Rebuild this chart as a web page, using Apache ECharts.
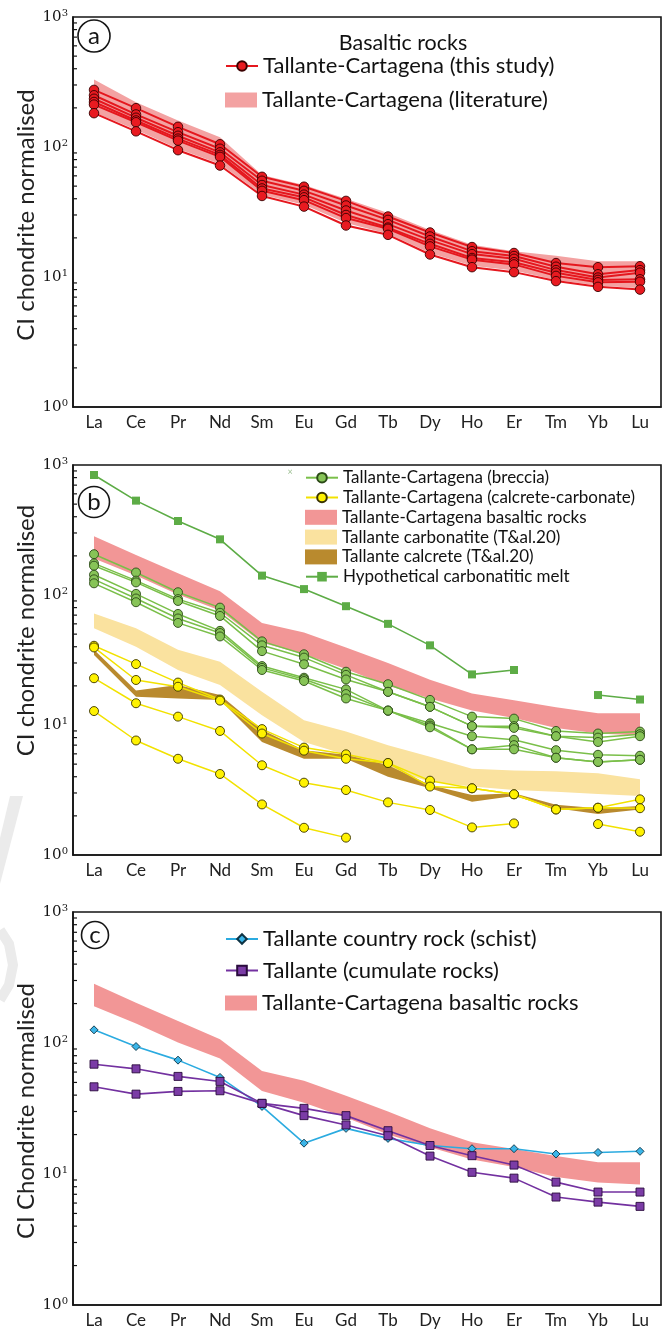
<!DOCTYPE html>
<html><head><meta charset="utf-8">
<script src="https://cdn.jsdelivr.net/npm/echarts@6/dist/echarts.min.js"></script>
<style>html,body{margin:0;padding:0;background:#fff}#chart{width:667px;height:1330px}</style>
</head><body><div id="chart"></div>
<script>
// ---------- categories & ticks ----------
const elements = ['La','Ce','Pr','Nd','Sm','Eu','Gd','Tb','Dy','Ho','Er','Tm','Yb','Lu'];
const minorTickValues = [2,3,4,5,6,7,8,9,20,30,40,50,60,70,80,90,200,300,400,500,600,700,800,900];

// ---------- panel a ----------
const aStudy1 = [275,199,143,105,59,49.5,38.5,29.2,22,17,15.3,12.8,11.9,12.1];
const aStudy2 = [250,178,130,97,55,46,35.5,27.5,20.5,15.8,14.5,12,10.5,11.3];
const aStudy3 = [235,168,122,91,51,43,32.5,25.5,19.2,15,13.8,11.3,9.9,10.8];
const aStudy4 = [222,160,116,87,48,41,30,24,18,14,13,10.8,9.5,9.6];
const aStudy5 = [212,155,112,84,46,39,28.4,23.5,17.2,13.6,12.5,10.2,9.1,9.2];
const aStudy6 = [182,132,94.5,72,42,34.8,24.9,21.1,14.9,11.9,10.9,9.3,8.4,8.0];
const aLitTop = [330,221,160,119,61,51,40,31,23,17.7,15.8,14.6,13.2,13.2];
const aLitBottom = [185,136,97,74,43,36,26,21.5,15.3,12.2,11.2,9.5,8.6,8.2];

// ---------- panel b ----------
const bBreccia1 = [206,149,105,80,44,35,25.7,20.6,15.6,11.6,11.2,9.0,8.6,8.9];
const bBreccia2 = [175,129,93,73,41,33,24.3,18,13.8,9.8,9.8,8.2,8.0,8.5];
const bBreccia3 = [168,125,90,69,37,29.3,22.4,18,13.8,9.8,9.5,8.2,7.4,8.2];
const bBreccia4 = [143,102,71.5,53,28.4,23.1,18.8,12.9,10.3,8.2,7.7,6.4,5.9,5.8];
const bBreccia5 = [132,94,66,51,27.5,22.5,17.3,12.9,9.9,6.5,7.0,5.6,5.2,5.4];
const bBreccia6 = [123,88,61,48,26.5,21.8,16,12.9,9.6,6.5,6.5,5.6,5.2,5.4];
const bCalc1 = [40.7,29.4,21.2,15.7,9.3,6.7,5.95,5.1,3.73,3.26,2.93,2.24,2.31,2.68];
const bCalc2 = [39.5,22.2,19.7,15.4,8.6,6.35,5.5,5.1,3.36,3.26,2.93,2.24,2.31,2.29];
const bCalc3 = [22.9,14.7,11.6,9.0,4.9,3.6,3.16,2.54,2.22,1.63,1.75,null,1.73,1.51];
const bCalc4 = [12.8,7.6,5.5,4.2,2.45,1.62,1.36,null,null,null,null,null,null,null];
const bHypoMelt = [838,532,371,268,141,111,82,60,41,24.5,26.5,null,17,15.7];
const basaltTop = [283,203,147,107,61,51.5,39.5,30,22.3,17.5,15.5,13.7,12.3,12.3];
const basaltBottom = [191,141,101,76,43,35,27,20,16,12.9,11.3,9.5,8.6,8.3];
const carbonatiteTop = [72,55.5,38,30.7,18,10.9,8.9,7.0,5.7,4.6,4.46,4.4,4.25,3.82];
const carbonatiteBottom = [55.5,40,26.5,20.3,11.9,7.4,5.9,4.6,3.66,3.36,3.16,3.07,2.94,2.84];
const calcreteTop = [38,18.4,20.3,17,9.2,6.4,5.9,4.9,3.45,2.9,2.98,2.43,2.29,2.38];
const calcreteBottom = [34.5,16.5,16,15.6,7.4,5.5,5.5,4.0,3.26,2.57,2.84,2.29,2.07,2.24];

// ---------- panel c ----------
const cSchist = [126,94,74,54.6,32.8,17.2,22.3,18.7,16.5,15.6,15.6,14.2,14.6,14.9];
const cCumulate1 = [68.9,63.5,55.6,50.9,34.6,31.7,27.9,21.4,16.5,13.8,11.7,8.67,7.28,7.28];
const cCumulate2 = [46.3,40.7,42.7,43.2,34.6,27.9,23.7,19.6,13.7,10.3,9.3,6.67,6.1,5.66];

// ---------- helpers ----------
const FONT = 'Lato';
const INK = '#151515';
const grids = [
  {left:73, top:17, width:588, height:390},
  {left:73, top:465, width:588, height:390},
  {left:73, top:912, width:588, height:393}
];
const yNames = ['CI chondrite normalised','CI chondrite normalised','CI Chondrite normalised'];
// padding shifts the rotated titles along the axis (left pad = up, right pad = down)
const yNamePads = [[0,6,0,0],[0,0,0,59],[0,5,0,0]];

function band(name, g, low, high, color) {
  return {
    type:'custom', name, xAxisIndex:g, yAxisIndex:g, z:1, silent:true,
    itemStyle:{color},
    data: elements.map((e,i)=>[i, low[i], high[i]]),
    encode:{x:0, y:[1,2]},
    renderItem(params, api){
      if (params.dataIndex !== 0) return null;
      const pts = [];
      for (let i=0;i<high.length;i++) pts.push(api.coord([i, high[i]]));
      for (let i=low.length-1;i>=0;i--) pts.push(api.coord([i, low[i]]));
      return {type:'polygon', shape:{points:pts}, style:{fill:color}};
    }
  };
}
function line(name, g, data, opt) {
  return {
    type:'line', name, xAxisIndex:g, yAxisIndex:g, data,
    symbol:opt.symbol, symbolSize:opt.size, showAllSymbol:true, connectNulls:false,
    lineStyle:{color:opt.color, width:opt.lw},
    itemStyle:{color:opt.fill, borderColor:opt.stroke, borderWidth:opt.bw == null ? 0.9 : opt.bw},
    z:3, silent:true, emphasis:{disabled:true}
  };
}
function minorTicks(g) {
  return {
    type:'custom', xAxisIndex:g, yAxisIndex:g, z:6, silent:true,
    data: minorTickValues.map(v=>[0,v]), encode:{x:0, y:1},
    renderItem(params, api){
      const p = api.coord([0, api.value(1)]);
      const x0 = params.coordSys.x;
      return {type:'line', shape:{x1:x0, y1:p[1], x2:x0+4, y2:p[1]}, style:{stroke:INK, lineWidth:1.2}};
    }
  };
}

const red = {symbol:'circle', size:9.5, color:'#e5171e', fill:'#e81a20', stroke:'#3a0000', lw:2};
const green = {symbol:'circle', size:9, color:'#7abf49', fill:'#87c457', stroke:'#2b4a17', lw:1.5};
const yellow = {symbol:'circle', size:9, color:'#f2e200', fill:'#fff200', stroke:'#3a3300', lw:1.5};
const hypo = {symbol:'rect', size:8, color:'#5dac46', fill:'#5dac46', stroke:'#5dac46', lw:1.6, bw:0};
const schist = {symbol:'diamond', size:[8,8], color:'#2babe0', fill:'#3bb5e8', stroke:'#0d3344', lw:1.6};
const cumul = {symbol:'rect', size:8, color:'#7331a0', fill:'#7b3ca6', stroke:'#2a0b3d', lw:1.6};

const series = [
  band('Tallante-Cartagena (literature)', 0, aLitBottom, aLitTop, '#f3a2a2'),
  line('Tallante-Cartagena (this study)', 0, aStudy1, red),
  line('Tallante-Cartagena (this study)', 0, aStudy2, red),
  line('Tallante-Cartagena (this study)', 0, aStudy3, red),
  line('Tallante-Cartagena (this study)', 0, aStudy4, red),
  line('Tallante-Cartagena (this study)', 0, aStudy5, red),
  line('Tallante-Cartagena (this study)', 0, aStudy6, red),

  band('Tallante-Cartagena basaltic rocks', 1, basaltBottom, basaltTop, '#f29696'),
  band('Tallante carbonatite (T&al.20)', 1, carbonatiteBottom, carbonatiteTop, '#fae29f'),
  band('Tallante calcrete (T&al.20)', 1, calcreteBottom, calcreteTop, '#b98a2e'),
  line('Tallante-Cartagena (breccia)', 1, bBreccia1, green),
  line('Tallante-Cartagena (breccia)', 1, bBreccia2, green),
  line('Tallante-Cartagena (breccia)', 1, bBreccia3, green),
  line('Tallante-Cartagena (breccia)', 1, bBreccia4, green),
  line('Tallante-Cartagena (breccia)', 1, bBreccia5, green),
  line('Tallante-Cartagena (breccia)', 1, bBreccia6, green),
  line('Tallante-Cartagena (calcrete-carbonate)', 1, bCalc1, yellow),
  line('Tallante-Cartagena (calcrete-carbonate)', 1, bCalc2, yellow),
  line('Tallante-Cartagena (calcrete-carbonate)', 1, bCalc3, yellow),
  line('Tallante-Cartagena (calcrete-carbonate)', 1, bCalc4, yellow),
  line('Hypothetical carbonatitic melt', 1, bHypoMelt, hypo),

  band('Tallante-Cartagena basaltic rocks ', 2, basaltBottom, basaltTop, '#f29696'),
  line('Tallante country rock (schist)', 2, cSchist, schist),
  line('Tallante (cumulate rocks)', 2, cCumulate1, cumul),
  line('Tallante (cumulate rocks)', 2, cCumulate2, cumul),
  minorTicks(0), minorTicks(1), minorTicks(2)
];

const xAxis = grids.map((g,i)=>({
  type:'category', gridIndex:i, data:elements, boundaryGap:true,
  axisLine:{lineStyle:{color:INK, width:1.6}},
  axisTick:{inside:true, alignWithLabel:true, length:3, lineStyle:{color:INK, width:1.2}},
  axisLabel:{fontFamily:FONT, fontSize:17, color:'#222', margin:7, interval:0},
  splitLine:{show:false}
}));
const yAxis = grids.map((g,i)=>({
  type:'log', logBase:10, min:1, max:1000, gridIndex:i,
  axisLine:{show:true, lineStyle:{color:INK, width:1.6}},
  axisTick:{inside:true, length:7, lineStyle:{color:INK, width:1.4}},
  splitLine:{show:false}, minorTick:{show:false},
  axisLabel:{
    margin:5,
    formatter: v => '{b|10}{s|' + Math.round(Math.log10(v)) + '}',
    rich:{
      b:{fontFamily:'DejaVu Serif', fontSize:15, color:INK, lineHeight:17},
      s:{fontFamily:'DejaVu Serif', fontSize:10, color:INK, lineHeight:10, verticalAlign:'top'}
    }
  },
  name:yNames[i], nameLocation:'middle', nameGap:35, nameMoveOverlap:false,
  nameTextStyle:{fontFamily:FONT, fontSize:24, color:'#222', padding:yNamePads[i]}
}));

const lineLegend = {orient:'vertical', selectedMode:false, itemWidth:32, itemHeight:12, padding:0};
const rectLegend = {orient:'vertical', selectedMode:false, itemWidth:32, itemHeight:15, padding:0};
const bigText = {fontFamily:FONT, fontSize:22, color:'#111'};
const smallText = {fontFamily:FONT, fontSize:17, color:'#111'};
const legend = [
  // panel a
  Object.assign({}, lineLegend, {left:225, top:55, textStyle:bigText,
    data:[{name:'Tallante-Cartagena (this study)'}]}),
  Object.assign({}, rectLegend, {left:225, top:89, textStyle:bigText,
    data:[{name:'Tallante-Cartagena (literature)', icon:'rect'}]}),
  // panel b
  Object.assign({}, lineLegend, {left:305, top:469.2, itemGap:2.8, textStyle:smallText,
    data:[{name:'Tallante-Cartagena (breccia)'}, {name:'Tallante-Cartagena (calcrete-carbonate)'}]}),
  Object.assign({}, rectLegend, {left:305, top:508.8, itemGap:2.8, textStyle:smallText,
    data:[{name:'Tallante-Cartagena basaltic rocks', icon:'rect'}, {name:'Tallante carbonatite (T&al.20)', icon:'rect'},
      {name:'Tallante calcrete (T&al.20)', icon:'rect'}]}),
  Object.assign({}, lineLegend, {left:305, top:568.2, textStyle:smallText,
    data:[{name:'Hypothetical carbonatitic melt'}]}),
  // panel c
  Object.assign({}, lineLegend, {left:225, top:928, itemGap:9.5, textStyle:bigText,
    data:[{name:'Tallante country rock (schist)'}, {name:'Tallante (cumulate rocks)'}]}),
  Object.assign({}, rectLegend, {left:225, top:992, textStyle:bigText,
    data:[{name:'Tallante-Cartagena basaltic rocks ', icon:'rect'}]})
];

function panelMark(cx, cy, r, letter) {
  return {type:'group', children:[
    {type:'circle', shape:{cx, cy, r}, style:{fill:'#fff', stroke:INK, lineWidth:1.6}, z:10},
    {type:'text', x:cx, y:cy, style:{text:letter, font:'24px Lato', fill:INK, align:'center', verticalAlign:'middle'}, z:11}
  ]};
}

const graphic = [
  {type:'polygon', shape:{points:[[10,796],[23,796],[0,884],[0,838]]}, style:{fill:'#ebebeb'}, z:-1},
  {type:'polyline', shape:{points:[[0,930],[9,944],[13,965],[9,985],[0,1000]]}, style:{stroke:'#ebebeb', lineWidth:10, fill:null}, z:-1},
  panelMark(94, 36, 16, 'a'),
  panelMark(94, 502, 15.5, 'b'),
  panelMark(95, 935, 13.5, 'c'),
  {type:'text', x:403, y:43, style:{text:'Basaltic rocks', font:'21.5px Lato', fill:'#111', align:'center', verticalAlign:'middle'}, z:10},
  {type:'text', x:290, y:472, style:{text:'\u00d7', font:'9px Lato', fill:'#9cbf90', align:'center', verticalAlign:'middle'}, z:10}
];

const chart = echarts.init(document.getElementById('chart'), null, {renderer:'canvas'});
chart.setOption({
  animation:false,
  backgroundColor:'#fff',
  grid: grids.map(g=>Object.assign({show:true, borderColor:INK, borderWidth:1.6, backgroundColor:'transparent', containLabel:false, outerBoundsMode:'none'}, g)),
  xAxis, yAxis, legend, series, graphic,
  tooltip:{show:false}
});
</script></body></html>
